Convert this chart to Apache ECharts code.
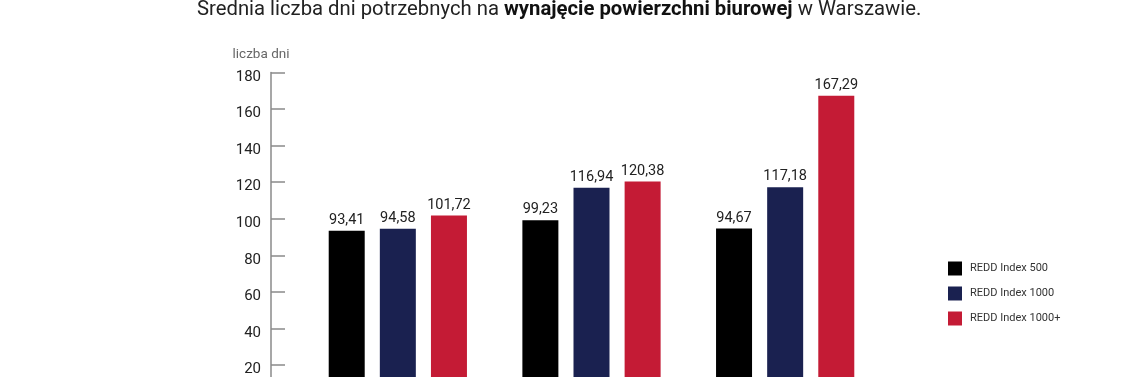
<!DOCTYPE html>
<html>
<head>
<meta charset="utf-8">
<title>REDD Index</title>
<script src="https://cdn.jsdelivr.net/npm/echarts@6/dist/echarts.min.js"></script>
<style>
  html, body { margin: 0; padding: 0; background: #fff; }
  #chart { width: 1140px; height: 377px; }
</style>
</head>
<body>
<div id="chart"></div>
<script>
// kategorie (okresy) - podpisy osi X są poza kadrem
const categories = ["I", "II", "III"];

const seriesNames = ["REDD Index 500", "REDD Index 1000", "REDD Index 1000+"];
const index500 = [93.41, 99.23, 94.67];
const index1000 = [94.58, 116.94, 117.18];
const index1000plus = [101.72, 120.38, 167.29];

const colors = ["#000000", "#1a2150", "#c41b35"];

const myChart = echarts.init(document.getElementById("chart"));

// etykieta z przecinkiem dziesiętnym
const fmt = (p) => p.value.toFixed(2).replace(".", ",");

const makeSeries = (name, data, color) => ({
  name: name,
  type: "bar",
  data: data,
  barWidth: 36,
  barGap: "42%",
  itemStyle: { color: color },
  label: {
    show: true,
    position: "top",
    distance: 3,
    formatter: fmt,
    color: "#222",
    fontSize: 14.5,
    fontFamily: "Roboto",
  },
});

const options = {
  animation: false,
  title: {
    text: "Średnia liczba dni potrzebnych na {b|wynajęcie powierzchni biurowej} w Warszawie.",
    left: 197,
    top: 0,
    padding: 0,
    textStyle: {
      fontFamily: "Roboto",
      fontSize: 20.3,
      fontWeight: "normal",
      color: "#222",
      rich: {
        b: {
          fontFamily: "Roboto",
          fontSize: 20.3,
          fontWeight: "bold",
          color: "#111",
        },
      },
    },
  },
  legend: {
    orient: "vertical",
    left: 948,
    top: 261.5,
    padding: 0,
    itemWidth: 14,
    itemHeight: 14,
    itemGap: 11,
    icon: "rect",
    textStyle: {
      fontFamily: "Roboto",
      fontSize: 11,
      color: "#333",
      padding: [0, 0, 0, 3],
    },
    data: seriesNames,
  },
  grid: {
    left: 301,
    width: 581,
    top: 72.5,
    height: 329,
    outerBoundsMode: "none",
  },
  xAxis: {
    type: "category",
    data: categories,
    axisLine: { show: false },
    axisTick: { show: false },
    axisLabel: { show: false },
  },
  yAxis: {
    type: "value",
    min: 0,
    max: 180,
    interval: 20,
    offset: 30,
    name: "liczba dni",
    nameLocation: "end",
    nameGap: 11,
    nameTextStyle: {
      fontFamily: "Roboto",
      fontSize: 13.5,
      color: "#666",
      align: "center",
      padding: [0, 20, 0, 0],
    },
    axisLine: {
      show: true,
      lineStyle: { color: "#8a8a8a", width: 1.5 },
    },
    axisTick: {
      show: true,
      inside: true,
      length: 14,
      lineStyle: { color: "#8a8a8a", width: 1.5 },
    },
    axisLabel: {
      fontFamily: "Roboto",
      fontSize: 15,
      color: "#222",
      margin: 10,
      verticalAlign: "top",
      lineHeight: 9,
    },
    splitLine: { show: false },
  },
  series: [
    makeSeries(seriesNames[0], index500, colors[0]),
    makeSeries(seriesNames[1], index1000, colors[1]),
    makeSeries(seriesNames[2], index1000plus, colors[2]),
  ],
};

myChart.setOption(options);
</script>
</body>
</html>
